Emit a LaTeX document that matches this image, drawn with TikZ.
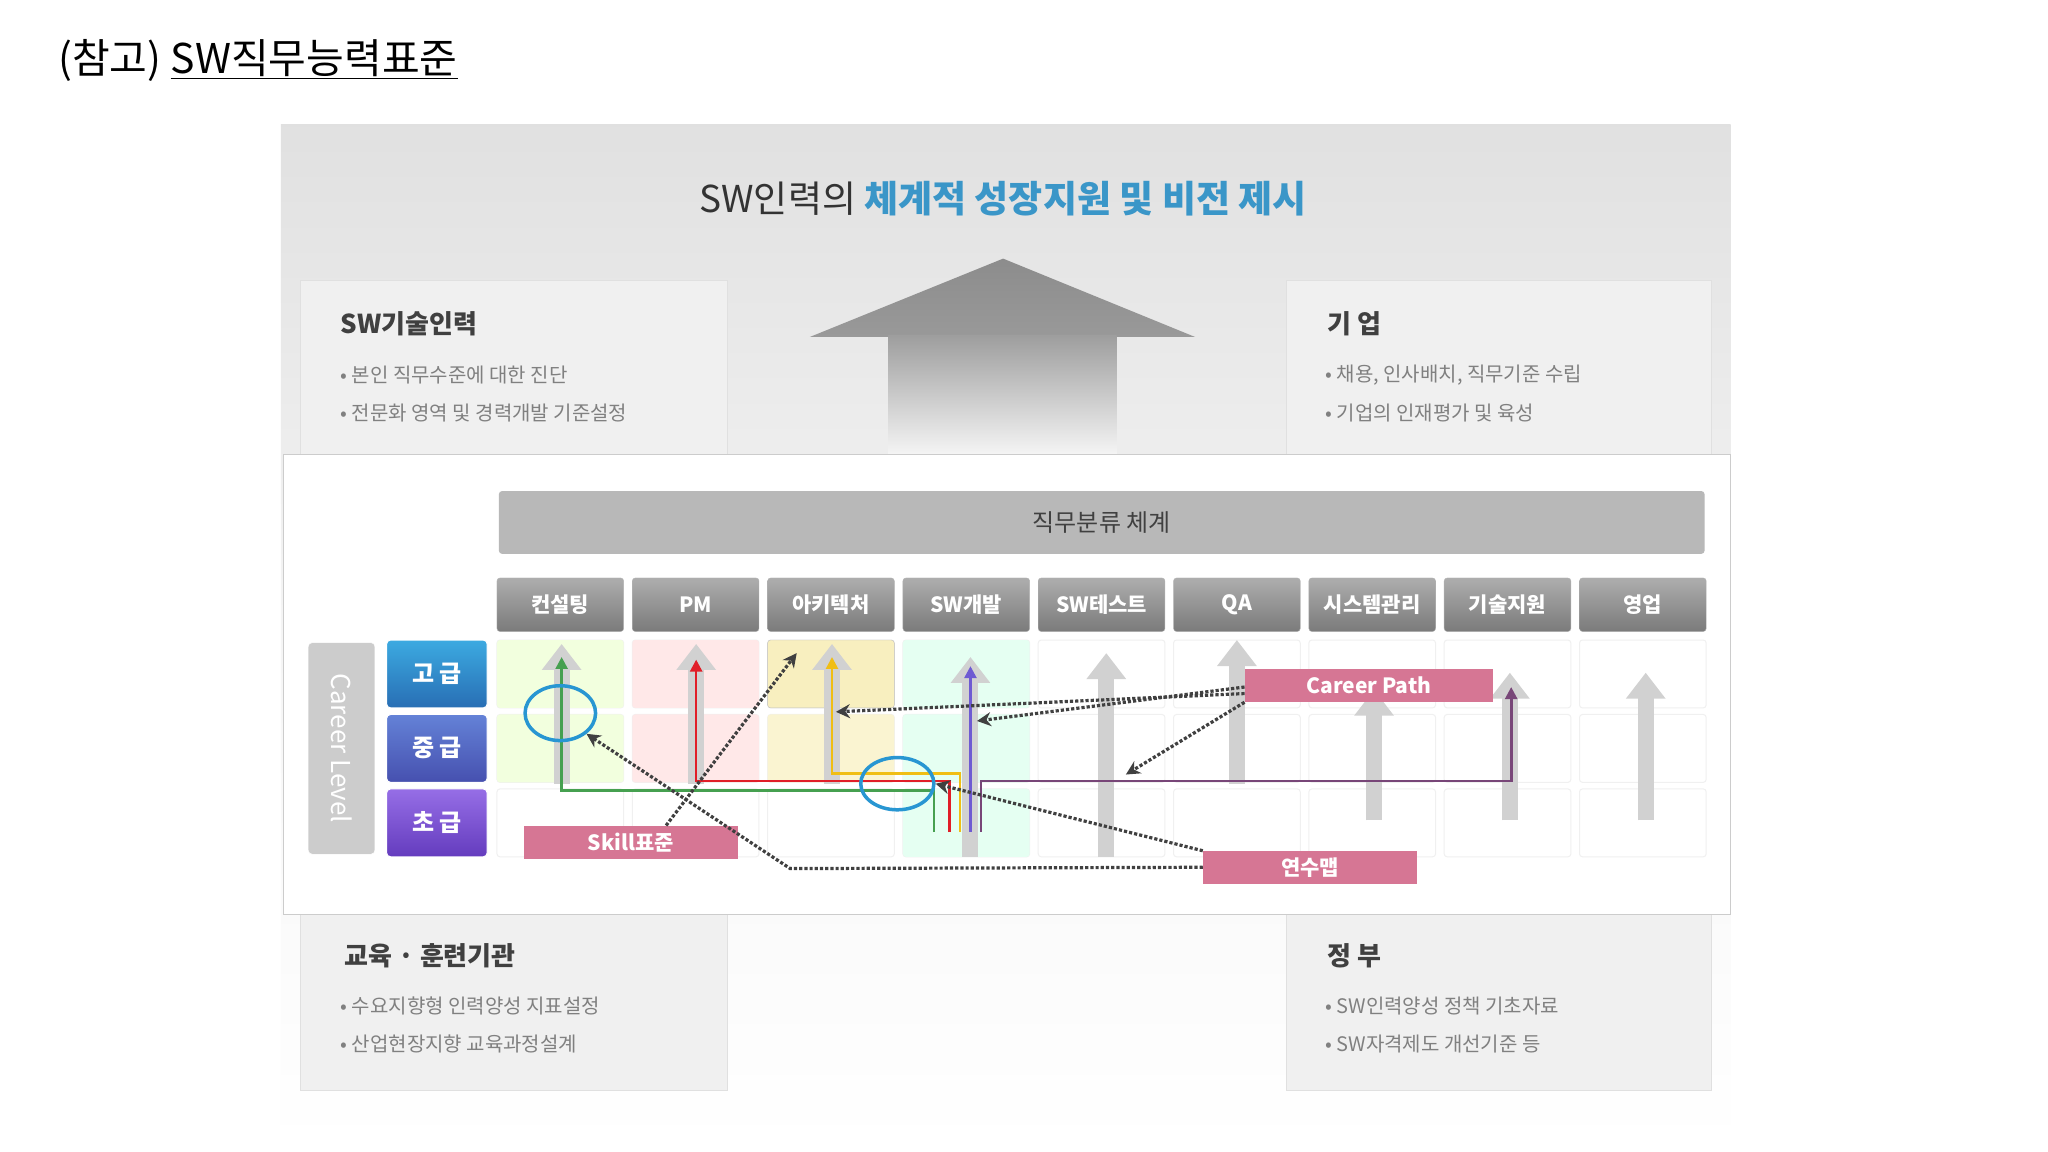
\documentclass[tikz,border=0pt]{standalone}
\usepackage{fontspec}
\setmainfont{Noto Sans CJK KR}
\usetikzlibrary{arrows.meta,shapes.geometric}
\definecolor{pinkl}{RGB}{214,118,148}
\definecolor{hblue}{RGB}{58,150,200}
\definecolor{grn}{RGB}{70,160,80}
\definecolor{rd}{RGB}{225,30,40}
\definecolor{yl}{RGB}{240,190,20}
\definecolor{bl}{RGB}{110,90,210}
\definecolor{pu}{RGB}{120,70,120}
\definecolor{circ}{RGB}{40,150,210}
\definecolor{l1t}{RGB}{60,170,225}
\definecolor{l1b}{RGB}{40,110,180}
\definecolor{l2t}{RGB}{100,130,215}
\definecolor{l2b}{RGB}{70,80,175}
\definecolor{l3t}{RGB}{150,110,230}
\definecolor{l3b}{RGB}{100,60,190}
\tikzset{
  panelbox/.style={fill=black!6,draw=black!12,line width=1pt},
  colhead/.style={draw=black!30,rounded corners=3pt,top color=black!32,bottom color=black!52,text=white,font=\fontsize{21}{21}\selectfont\bfseries,minimum width=97*1.306pt,minimum height=41*1.306pt,inner sep=0pt},
  lvl/.style={draw=white,line width=1pt,rounded corners=4pt,text=white,font=\fontsize{24}{24}\selectfont\bfseries,minimum width=77*1.306pt,minimum height=52*1.306pt,inner sep=0pt},
  plabel/.style={fill=pinkl,text=white,font=\fontsize{21}{21}\selectfont\bfseries,inner sep=0pt,minimum height=25*1.306pt},
  garrow/.style={line width=16pt,black!18,-{Triangle[width=38pt,length=26pt]}},
  cpath/.style={line width=2.6pt,-{Triangle[width=12pt,length=12pt]}},
  dotarr/.style={line width=3.2pt,black!75,dotted,-{Stealth[width=14pt,length=14pt]}},
  ring/.style={draw=circ,line width=3.5pt,ellipse,inner sep=0pt},
  bul/.style={anchor=west,text=black!50,font=\fontsize{20}{20}\selectfont},
  bhead/.style={anchor=west,text=black!75,font=\fontsize{26}{26}\selectfont\bfseries},
}
\begin{document}
\begin{tikzpicture}[x=1.306pt,y=-1.306pt]
\useasboundingbox (0,0) rectangle (1568,882);
\fill[white] (0,0) rectangle (1568,882);
\node[anchor=west,font=\fontsize{41}{41}\selectfont] (title) at (42,46) {(참고) \underline{SW직무능력표준}};
% background
\shade[top color=black!12,bottom color=white,middle color=black!4] (215,95) rectangle (1325,880);
\node[font=\fontsize{37}{37}\selectfont] (head) at (768,152) {\textcolor{black!80}{SW인력의} \textcolor{hblue}{\bfseries 체계적 성장지원 및 비전 제시}};
% big arrow
\shade[top color=black!45,bottom color=black!40] (768,198) -- (915,258) -- (620,258) -- cycle;
\shade[top color=black!38,bottom color=black!4] (680,257) rectangle (855,348);
% corner boxes
\draw[panelbox] (230,348) -- (230,215) -- (557,215) -- (557,348);
\draw[panelbox] (985,348) -- (985,215) -- (1310,215) -- (1310,348);
\draw[panelbox] (230,700) -- (230,835) -- (557,835) -- (557,700);
\draw[panelbox] (985,700) -- (985,835) -- (1310,835) -- (1310,700);
\node[bhead] (h1) at (258,248) {SW기술인력};
\node[bul] (b11) at (258,287) {• 본인 직무수준에 대한 진단};
\node[bul] (b12) at (258,316) {• 전문화 영역 및 경력개발 기준설정};
\node[bhead] (h2) at (1014,248) {기 업};
\node[bul] (b21) at (1012,287) {• 채용, 인사배치, 직무기준 수립};
\node[bul] (b22) at (1012,316) {• 기업의 인재평가 및 육성};
\node[bhead] (h3) at (261,732) {교육 · 훈련기관};
\node[bul] (b31) at (258,770) {• 수요지향형 인력양성 지표설정};
\node[bul] (b32) at (258,799) {• 산업현장지향 교육과정설계};
\node[bhead] (h4) at (1014,732) {정 부};
\node[bul] (b41) at (1012,770) {• SW인력양성 정책 기초자료};
\node[bul] (b42) at (1012,799) {• SW자격제도 개선기준 등};
% main panel
\draw[fill=white,draw=black!20,line width=1pt] (217,348) rectangle (1325,700);
\node[fill=black!28,rounded corners=3pt,minimum width=923*1.306pt,minimum height=48*1.306pt,font=\fontsize{24}{24}\selectfont,text=black!75] (bar) at (843.5,400) {직무분류 체계};
% columns
\foreach \t [count=\i from 0] in {컨설팅,PM,아키텍처,SW개발,SW테스트,QA,시스템관리,기술지원,영업}{
  \node[colhead] (c\i) at ({429+103.6*\i},463) {\t};
  \foreach \r in {0,1,2}{
    \draw[black!6,rounded corners=3pt,line width=1pt] ({380.5+103.6*\i},{490+57*\r}) rectangle ++(97,52);
  }
}
\fill[rounded corners=3pt,green!40!yellow!13] (380.5,490) rectangle ++(97,52) (380.5,547) rectangle ++(97,52);
\fill[rounded corners=3pt,red!9] (484.1,490) rectangle ++(97,52) (484.1,547) rectangle ++(97,52);
\filldraw[rounded corners=3pt,yellow!60!brown!28,draw=black!25] (587.7,490) rectangle ++(97,52);
\fill[rounded corners=3pt,yellow!60!brown!20] (587.7,547) rectangle ++(97,52);
\fill[rounded corners=3pt,green!50!cyan!10] (691.3,490) rectangle ++(97,52) (691.3,547) rectangle ++(97,52) (691.3,604) rectangle ++(97,52);
% career level
\node[fill=black!20,draw=white,rounded corners=4pt,minimum width=51*1.306pt,minimum height=162*1.306pt] (cl) at (261.5,573) {};
\node[rotate=-90,text=white,font=\fontsize{26}{26}\selectfont] (clt) at (cl.center) {Career Level};
\node[lvl,top color=l1t,bottom color=l1b] (l1) at (334.5,516) {고 급};
\node[lvl,top color=l2t,bottom color=l2b] (l2) at (334.5,573) {중 급};
\node[lvl,top color=l3t,bottom color=l3b] (l3) at (334.5,630) {초 급};
% grey arrows
\draw[garrow] (430,600) -- (430,493);
\draw[garrow] (533,600) -- (533,493);
\draw[garrow] (637,600) -- (637,493);
\draw[garrow] (743,656) -- (743,503);
\draw[garrow] (847,656) -- (847,500);
\draw[garrow] (947,600) -- (947,490);
\draw[garrow] (1052,628) -- (1052,528);
\draw[garrow] (1156,628) -- (1156,515);
\draw[garrow] (1260,628) -- (1260,515);
% colored paths
\draw[cpath,grn] (715,637) -- (715,605) -- (430,605) -- (430,503);
\draw[cpath,rd] (727,637) -- (727,598) -- (533,598) -- (533,505);
\draw[cpath,yl] (735,637) -- (735,592) -- (637,592) -- (637,503);
\draw[cpath,bl] (743,637) -- (743,510);
\draw[cpath,pu] (751,637) -- (751,598) -- (1157,598) -- (1157,526);
% rings
\node[ring,minimum width=54*1.306pt,minimum height=42*1.306pt] (r1) at (429,546) {};
\node[ring,minimum width=56*1.306pt,minimum height=40*1.306pt] (r2) at (687,600) {};
% labels
\node[plabel,minimum width=164*1.306pt] (skill) at (483,645) {Skill표준};
\node[plabel,minimum width=190*1.306pt] (cp) at (1048,525) {Career Path};
\node[plabel,minimum width=164*1.306pt] (ys) at (1003,664) {연수맵};
% dotted connectors
\coordinate (s0) at (510,632);
\coordinate (s1) at (610,500);
\draw[dotarr] (s0) -- (s1);
\coordinate (y0) at (605,665);
\draw[dotarr] (ys.west) -- (y0) -- (r1.south east);
\draw[dotarr] (ys.north west) -- (r2.east);
\coordinate (cp1) at (640,545);
\coordinate (cp2) at (748,552);
\coordinate (cp3) at (862,593);
\draw[dotarr] ([yshift=-6*1.306pt]cp.west) -- (cp1);
\draw[dotarr] ([yshift=-1*1.306pt]cp.west) -- (cp2);
\draw[dotarr] (cp.south west) -- (cp3);
\end{tikzpicture}
\end{document}
